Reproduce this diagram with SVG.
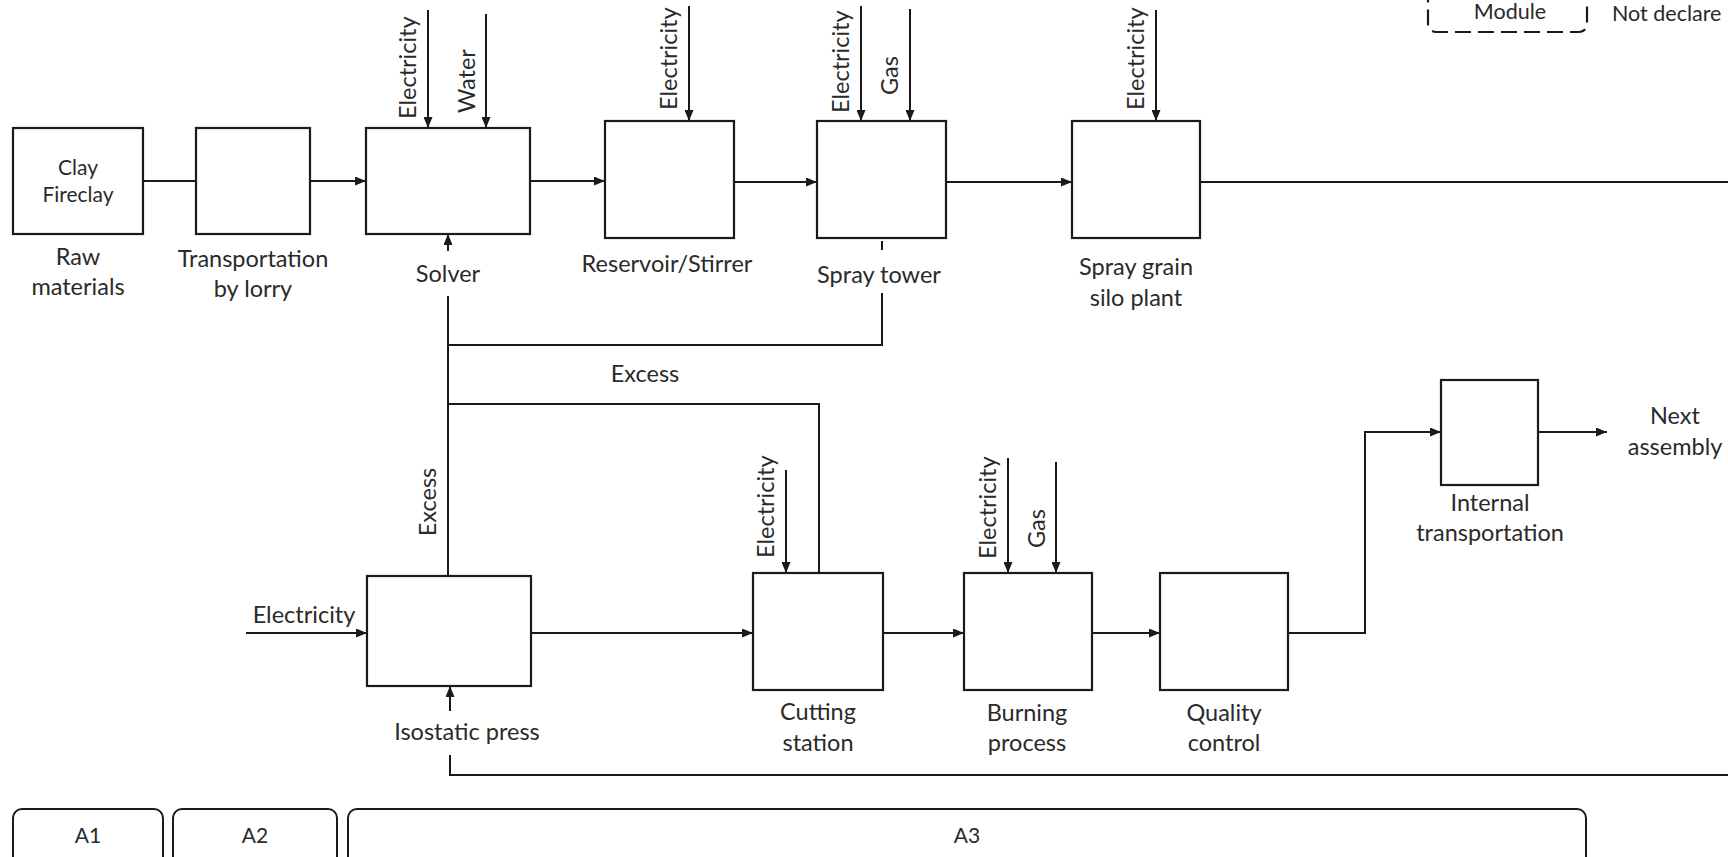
<svg xmlns="http://www.w3.org/2000/svg" width="1728" height="857" viewBox="0 0 1728 857">
<defs>
<marker id="ah" markerUnits="userSpaceOnUse" markerWidth="11" markerHeight="9" refX="11" refY="4.5" orient="auto">
<path d="M0,0 L11,4.5 L0,9 z" fill="#1a1a1a"/>
</marker>
</defs>
<style>
.box{fill:#fff;stroke:#1a1a1a;stroke-width:2.2}
.ln{fill:none;stroke:#1a1a1a;stroke-width:2}
.ar{fill:none;stroke:#1a1a1a;stroke-width:2;marker-end:url(#ah)}
text{font-family:Lato,"Liberation Sans",sans-serif;font-size:23.5px;fill:#2a2a2a}
.c{text-anchor:middle}
.s{font-size:21px}
.lg{font-size:21.5px}
.mod{fill:#fff;stroke:#1a1a1a;stroke-width:2}
.leg{fill:none;stroke:#1a1a1a;stroke-width:2.2;stroke-dasharray:16 7}
</style>
<rect width="1728" height="857" fill="#fff"/>

<g id="connectors">
<line class="ln" x1="143" y1="181" x2="196" y2="181"/>
<line class="ar" x1="310" y1="181" x2="366" y2="181"/>
<line class="ar" x1="530" y1="181" x2="605" y2="181"/>
<line class="ar" x1="734" y1="182" x2="817" y2="182"/>
<line class="ar" x1="946" y1="182" x2="1072" y2="182"/>
<line class="ln" x1="1200" y1="182" x2="1728" y2="182"/>
<line class="ar" x1="428" y1="10" x2="428" y2="128"/>
<line class="ar" x1="486" y1="14" x2="486" y2="128"/>
<line class="ar" x1="689" y1="6" x2="689" y2="121"/>
<line class="ar" x1="861" y1="6" x2="861" y2="121"/>
<line class="ar" x1="910" y1="9" x2="910" y2="121"/>
<line class="ar" x1="1156" y1="10" x2="1156" y2="121"/>
<line class="ar" x1="448" y1="251" x2="448" y2="234"/>
<line class="ln" x1="882" y1="241" x2="882" y2="250"/>
<line class="ln" x1="448" y1="296" x2="448" y2="576"/>
<polyline class="ln" points="882,293 882,345 448,345"/>
<polyline class="ln" points="448,404 819,404 819,573"/>
<line class="ar" x1="246" y1="633" x2="367" y2="633"/>
<line class="ar" x1="531" y1="633" x2="753" y2="633"/>
<line class="ar" x1="786" y1="470" x2="786" y2="573"/>
<line class="ar" x1="883" y1="633" x2="964" y2="633"/>
<line class="ar" x1="1008" y1="458" x2="1008" y2="573"/>
<line class="ar" x1="1056" y1="462" x2="1056" y2="573"/>
<line class="ar" x1="1092" y1="633" x2="1160" y2="633"/>
<polyline class="ar" points="1288,633 1365,633 1365,432 1441,432"/>
<line class="ar" x1="1538" y1="432" x2="1607" y2="432"/>
<line class="ar" x1="450" y1="711" x2="450" y2="686"/>
<polyline class="ln" points="450,755 450,775 1728,775"/>
</g>

<g id="labels-inputs">
<text transform="translate(416,119) rotate(-90)">Electricity</text>
<text transform="translate(475,113) rotate(-90)">Water</text>
<text transform="translate(677,110) rotate(-90)">Electricity</text>
<text transform="translate(849,113) rotate(-90)">Electricity</text>
<text transform="translate(898,95) rotate(-90)">Gas</text>
<text transform="translate(1144,110) rotate(-90)">Electricity</text>
<text class="c" x="645" y="382">Excess</text>
<text class="c" transform="translate(436,502) rotate(-90)">Excess</text>
<text class="c" x="304" y="623">Electricity</text>
<text transform="translate(774,558) rotate(-90)">Electricity</text>
<text transform="translate(996,559) rotate(-90)">Electricity</text>
<text transform="translate(1045,548) rotate(-90)">Gas</text>
</g>

<g id="raw-materials">
<rect class="box" x="13" y="128" width="130" height="106"/>
<text class="c s" x="78" y="175">Clay</text>
<text class="c s" x="78" y="202">Fireclay</text>
<text class="c" x="78" y="265">Raw</text>
<text class="c" x="78" y="295">materials</text>
</g>

<g id="transportation-lorry">
<rect class="box" x="196" y="128" width="114" height="106"/>
<text class="c" x="253" y="267">Transportation</text>
<text class="c" x="253" y="297">by lorry</text>
</g>

<g id="solver">
<rect class="box" x="366" y="128" width="164" height="106"/>
<text class="c" x="448" y="282">Solver</text>
</g>

<g id="reservoir">
<rect class="box" x="605" y="121" width="129" height="117"/>
<text class="c" x="667" y="272">Reservoir/Stirrer</text>
</g>

<g id="spray-tower">
<rect class="box" x="817" y="121" width="129" height="117"/>
<text class="c" x="879" y="283">Spray tower</text>
</g>

<g id="spray-grain-silo">
<rect class="box" x="1072" y="121" width="128" height="117"/>
<text class="c" x="1136" y="275">Spray grain</text>
<text class="c" x="1136" y="306">silo plant</text>
</g>

<g id="isostatic-press">
<rect class="box" x="367" y="576" width="164" height="110"/>
<text class="c" x="467" y="740">Isostatic press</text>
</g>

<g id="cutting-station">
<rect class="box" x="753" y="573" width="130" height="117"/>
<text class="c" x="818" y="720">Cutting</text>
<text class="c" x="818" y="751">station</text>
</g>

<g id="burning-process">
<rect class="box" x="964" y="573" width="128" height="117"/>
<text class="c" x="1027" y="721">Burning</text>
<text class="c" x="1027" y="751">process</text>
</g>

<g id="quality-control">
<rect class="box" x="1160" y="573" width="128" height="117"/>
<text class="c" x="1224" y="721">Quality</text>
<text class="c" x="1224" y="751">control</text>
</g>

<g id="internal-transportation">
<rect class="box" x="1441" y="380" width="97" height="105"/>
<text class="c" x="1490" y="511">Internal</text>
<text class="c" x="1490" y="541">transportation</text>
</g>

<g id="next-assembly">
<text class="c" x="1675" y="424">Next</text>
<text class="c" x="1675" y="455">assembly</text>
</g>

<g id="legend">
<rect class="leg" x="1428" y="-30" width="159" height="62" rx="8"/>
<text class="c lg" x="1510" y="19">Module</text>
<text class="lg" x="1612" y="21">Not declare</text>
</g>

<g id="module-a1">
<rect class="mod" x="13" y="809" width="150" height="70" rx="9"/>
<text class="c s" x="88" y="843">A1</text>
</g>
<g id="module-a2">
<rect class="mod" x="173" y="809" width="164" height="70" rx="9"/>
<text class="c s" x="255" y="843">A2</text>
</g>
<g id="module-a3">
<rect class="mod" x="348" y="809" width="1238" height="70" rx="9"/>
<text class="c s" x="967" y="843">A3</text>
</g>
</svg>
